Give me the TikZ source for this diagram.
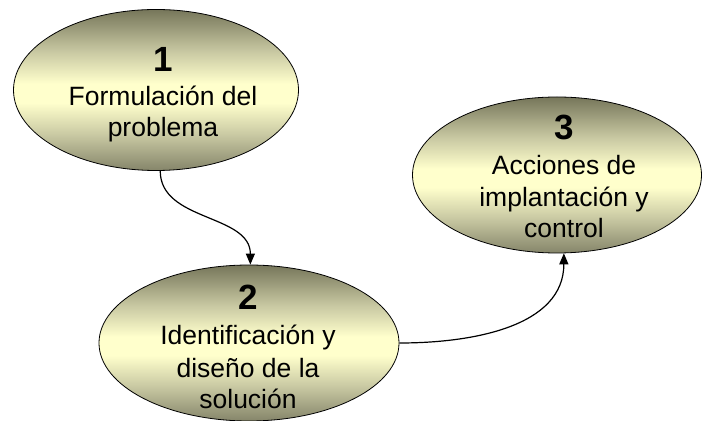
\documentclass[tikz,border=0pt]{standalone}
\usepackage{fontspec}
\setmainfont{Liberation Sans}
\usetikzlibrary{shapes.geometric,arrows.meta}
\definecolor{dk}{HTML}{76765A}
\definecolor{dkb}{HTML}{85856A}
\definecolor{md}{HTML}{C8C8A2}
\definecolor{lt}{HTML}{FFFFCC}
\pgfdeclareverticalshading{olv}{100bp}{color(0bp)=(dkb); color(25bp)=(dkb); color(36bp)=(md); color(46bp)=(lt); color(52bp)=(lt); color(62bp)=(md); color(75bp)=(dk); color(100bp)=(dk)}
\tikzset{
  ell/.style={ellipse, draw=black, line width=0.8pt, shading=olv, inner sep=0pt},
  numtxt/.style={anchor=base, inner sep=0pt, font=\fontsize{35}{35}\selectfont\bfseries},
  bodytxt/.style={anchor=base, inner sep=0pt, font=\fontsize{26.5}{31}\selectfont},
  conn/.style={line width=1.2pt, -{Triangle[length=11pt,width=9pt]}}
}
\begin{document}
\begin{tikzpicture}[x=1pt,y=1pt]
\path[use as bounding box] (0,0) rectangle (703,420);
% ellipses
\node[ell, minimum width=285pt, minimum height=161pt] (e1) at (156,330) {};
\node[ell, minimum width=300pt, minimum height=156pt] (e2) at (249,77) {};
\node[ell, minimum width=289pt, minimum height=156pt] (e3) at (557,245) {};
% texts
\node[numtxt] (n1) at (163,348) {1};
\node[bodytxt] (a1) at (163,314) {Formulación del};
\node[bodytxt] (b1) at (163,283) {problema};
\node[numtxt] (n2) at (248,110) {2};
\node[bodytxt] (a2) at (248,75) {Identificación y};
\node[bodytxt] (b2) at (248,43) {diseño de la};
\node[bodytxt] (c2) at (248,12) {solución};
\node[numtxt] (n3) at (564,280) {3};
\node[bodytxt] (a3) at (564,245) {Acciones de};
\node[bodytxt] (b3) at (564,213) {implantación y};
\node[bodytxt] (c3) at (564,182) {control};
% connectors
\draw[conn] (e1.-87) to[out=-90,in=90] (e2.89);
\draw[conn] (e2.east) to[out=0,in=-90] (e3.-85);
\end{tikzpicture}
\end{document}
